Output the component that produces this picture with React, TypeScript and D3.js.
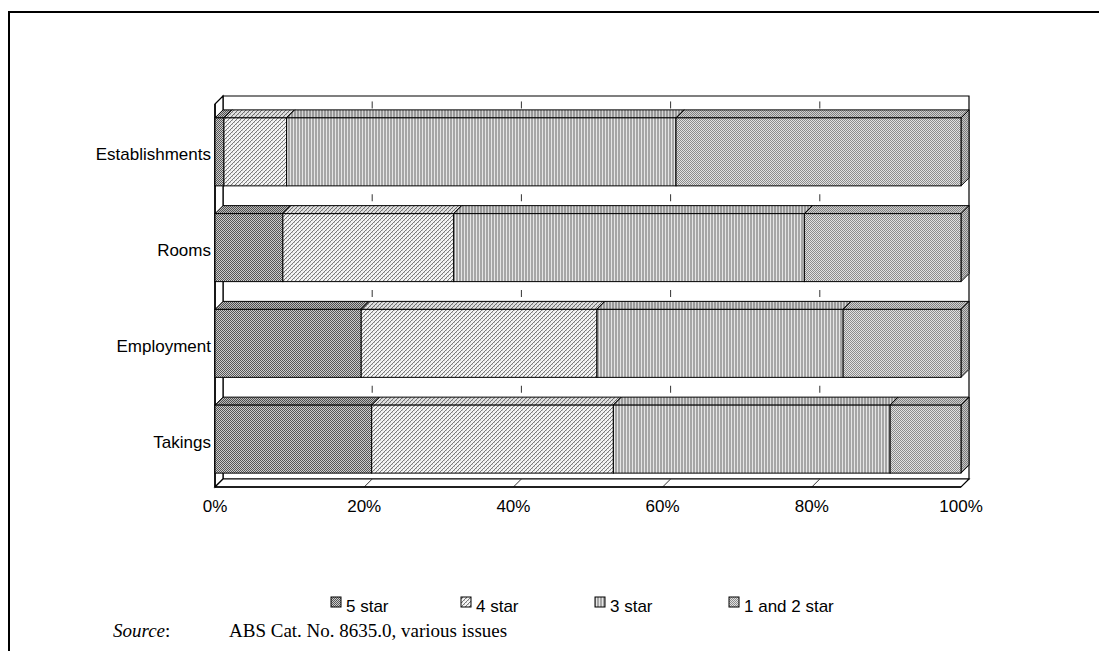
import React, { useEffect } from "react";
import * as d3 from "d3";

// Share of each star rating (%) by measure
const categories = ["Establishments", "Rooms", "Employment", "Takings"];
const seriesNames = ["5 star", "4 star", "3 star", "1 and 2 star"];
const fiveStar = [1.2, 9.1, 19.6, 21.0];
const fourStar = [8.4, 22.9, 31.6, 32.4];
const threeStar = [52.2, 47.0, 33.0, 37.1];
const oneTwoStar = [38.2, 21.0, 15.8, 9.5];
const tickValues = [0, 20, 40, 60, 80, 100];

const seriesValues = [fiveStar, fourStar, threeStar, oneTwoStar];
const patternIds = ["pat5", "pat4", "pat3", "pat12"];

const W = 1099;
const H = 651;
const DEPTH = 8;

const sans = "'Liberation Sans', Arial, sans-serif";
const serif = "'Liberation Serif', 'Times New Roman', serif";

export default function App() {
  useEffect(() => {
    document.body.style.margin = "0";
    document.body.style.overflow = "hidden";
  }, []);

  const x = d3.scaleLinear().domain([0, 100]).range([215, 961]);
  const y = d3
    .scaleBand<string>()
    .domain(categories)
    .range([104, 487])
    .paddingInner(0.29)
    .paddingOuter(0.145);

  const rows = categories.map((c, i) => {
    const r: Record<string, any> = { category: c };
    seriesNames.forEach((s, k) => (r[s] = seriesValues[k][i]));
    return r;
  });
  const stacked = d3.stack<Record<string, any>>().keys(seriesNames)(rows);

  const [xl, xr] = x.range();
  const [yt, yb] = y.range();
  const d = DEPTH;

  const pts = (arr: number[][]) => arr.map((p) => p.join(",")).join(" ");

  // gaps on the back wall where gridlines show between bars
  const gaps: [number, number][] = [];
  categories.forEach((c, i) => {
    const top = y(c)! - d;
    const prevBottom = i === 0 ? yt - d : y(categories[i - 1])! + y.bandwidth();
    gaps.push([prevBottom, top]);
  });

  const bars: JSX.Element[] = [];
  categories.forEach((c, ci) => {
    const y0 = y(c)!;
    const y1 = y0 + y.bandwidth();
    stacked.forEach((layer, si) => {
      const [a, b] = layer[ci];
      const x0 = x(a);
      const x1 = x(b);
      const fill = `url(#${patternIds[si]})`;
      const topFace = pts([[x0, y0], [x0 + d, y0 - d], [x1 + d, y0 - d], [x1, y0]]);
      const sideFace = pts([[x1, y0], [x1 + d, y0 - d], [x1 + d, y1 - d], [x1, y1]]);
      bars.push(
        <g key={`${c}-${si}`}>
          <polygon points={topFace} fill={fill} stroke="#000" strokeWidth={1} />
          <polygon points={topFace} fill="rgba(0,0,0,0.08)" stroke="none" />
          <polygon points={sideFace} fill={fill} stroke="#000" strokeWidth={1} />
          <polygon points={sideFace} fill="rgba(0,0,0,0.12)" stroke="none" />
          <rect
            x={x0}
            y={y0}
            width={x1 - x0}
            height={y1 - y0}
            fill={fill}
            stroke="#000"
            strokeWidth={1}
          />
        </g>
      );
    });
  });

  const legendX = [331, 461, 595, 729];
  const legendY = 606;

  return (
    <svg
      width={W}
      height={H}
      style={{ display: "block", background: "#fff" }}
    >
      <defs>
        <pattern id="pat5" width={2} height={2} patternUnits="userSpaceOnUse">
          <rect width={2} height={2} fill="#cdcdcd" />
          <rect x={0} y={0} width={1} height={1} fill="#565656" />
          <rect x={1} y={1} width={1} height={1} fill="#565656" />
        </pattern>
        <pattern id="pat4" width={4} height={4} patternUnits="userSpaceOnUse">
          <rect width={4} height={4} fill="#f4f4f4" />
          <rect x={3} y={0} width={1} height={1} fill="#7a7a7a" />
          <rect x={2} y={1} width={1} height={1} fill="#7a7a7a" />
          <rect x={1} y={2} width={1} height={1} fill="#7a7a7a" />
          <rect x={0} y={3} width={1} height={1} fill="#7a7a7a" />
          <rect x={0} y={0} width={1} height={1} fill="#c8c8c8" />
          <rect x={2} y={2} width={1} height={1} fill="#c8c8c8" />
        </pattern>
        <pattern id="pat3" width={3} height={3} patternUnits="userSpaceOnUse">
          <rect width={3} height={3} fill="#a6a6a6" />
          <rect x={2} y={0} width={1} height={3} fill="#e6e6e6" />
        </pattern>
        <pattern id="pat12" width={2} height={2} patternUnits="userSpaceOnUse">
          <rect width={2} height={2} fill="#e2e2e2" />
          <rect x={0} y={0} width={1} height={1} fill="#8c8c8c" />
          <rect x={1} y={1} width={1} height={1} fill="#8c8c8c" />
        </pattern>
      </defs>

      {/* outer frame */}
      <line x1={8} y1={12} x2={W} y2={12} stroke="#000" strokeWidth={2} />
      <line x1={9} y1={11} x2={9} y2={H} stroke="#000" strokeWidth={2} />

      {/* back wall, side wall, floor */}
      <polygon
        points={pts([[xl + d, yt - d], [xr + d, yt - d], [xr + d, yb - d], [xl + d, yb - d]])}
        fill="#fff"
        stroke="#000"
        strokeWidth={1.2}
      />
      <polygon
        points={pts([[xl, yt], [xl + d, yt - d], [xl + d, yb - d], [xl, yb]])}
        fill="#fff"
        stroke="#000"
        strokeWidth={1.2}
      />
      <polygon
        points={pts([[xl, yb], [xl + d, yb - d], [xr + d, yb - d], [xr, yb]])}
        fill="#fff"
        stroke="#000"
        strokeWidth={1.2}
      />

      {/* gridlines on the wall and floor */}
      {tickValues
        .filter((t) => t > 0 && t < 100)
        .map((t) => (
          <g key={`grid-${t}`}>
            {gaps.map(([a, b], gi) => {
              const mid = (a + b) / 2 + 2;
              return (
                <line
                  key={gi}
                  x1={x(t) + d}
                  x2={x(t) + d}
                  y1={mid - 3.5}
                  y2={mid + 3.5}
                  stroke="#333"
                  strokeWidth={1}
                />
              );
            })}
            <line
              x1={x(t) + d}
              y1={yb - d}
              x2={x(t)}
              y2={yb}
              stroke="#333"
              strokeWidth={1}
            />
          </g>
        ))}

      {/* front axes */}
      <line x1={xl} y1={yt} x2={xl} y2={yb} stroke="#000" strokeWidth={1.5} />
      <line x1={xl} y1={yb} x2={xr} y2={yb} stroke="#000" strokeWidth={1.5} />

      {bars}

      {/* category labels */}
      {categories.map((c) => (
        <text
          key={c}
          x={211}
          y={y(c)! + y.bandwidth() / 2 + 4}
          textAnchor="end"
          dominantBaseline="middle"
          fontFamily={sans}
          fontSize={17}
          fill="#000"
        >
          {c}
        </text>
      ))}

      {/* value axis labels */}
      {tickValues.map((t) => (
        <text
          key={t}
          x={x(t)}
          y={512}
          textAnchor="middle"
          fontFamily={sans}
          fontSize={17}
          fill="#000"
        >
          {t}%
        </text>
      ))}

      {/* legend */}
      {seriesNames.map((s, i) => (
        <g key={s}>
          <rect
            x={legendX[i]}
            y={legendY - 9}
            width={10}
            height={10}
            fill={`url(#${patternIds[i]})`}
            stroke="#000"
            strokeWidth={1}
          />
          <text
            x={legendX[i] + 15}
            y={legendY + 6}
            fontFamily={sans}
            fontSize={17}
            fill="#000"
          >
            {s}
          </text>
        </g>
      ))}

      {/* source note */}
      <text x={113} y={637} fontFamily={serif} fontSize={19} fill="#000">
        <tspan fontStyle="italic">Source</tspan>
        <tspan>:</tspan>
      </text>
      <text x={229} y={637} fontFamily={serif} fontSize={19} fill="#000">
        ABS Cat. No. 8635.0, various issues
      </text>
    </svg>
  );
}
